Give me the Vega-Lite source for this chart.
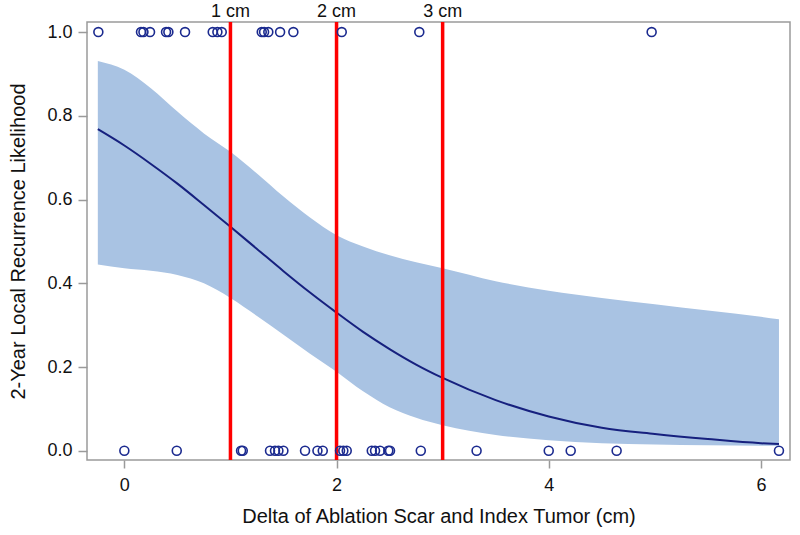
{
  "$schema": "https://vega.github.io/schema/vega-lite/v6.json",
  "width": 703,
  "height": 438,
  "autosize": "none",
  "padding": {"left": 87, "top": 22, "right": 10, "bottom": 75},
  "background": "white",
  "config": {
    "font": "Liberation Sans",
    "view": {"stroke": "#9a9a9a", "strokeWidth": 1.5},
    "axis": {
      "grid": false,
      "domain": false,
      "tickColor": "#9a9a9a",
      "tickSize": 9,
      "tickWidth": 1.5,
      "labelFont": "Liberation Sans",
      "labelFontSize": 18,
      "labelColor": "#111",
      "titleFont": "Liberation Sans",
      "titleFontSize": 20,
      "titleFontWeight": "normal",
      "titleColor": "#111"
    }
  },
  "datasets": {
    "curve": [
      {"x": -0.25, "fit": 0.768, "lo": 0.445, "hi": 0.931},
      {"x": 0.0, "fit": 0.729, "lo": 0.436, "hi": 0.910},
      {"x": 0.25, "fit": 0.685, "lo": 0.430, "hi": 0.866},
      {"x": 0.5, "fit": 0.638, "lo": 0.420, "hi": 0.810},
      {"x": 0.75, "fit": 0.587, "lo": 0.400, "hi": 0.758},
      {"x": 1.0, "fit": 0.535, "lo": 0.365, "hi": 0.714},
      {"x": 1.25, "fit": 0.482, "lo": 0.322, "hi": 0.662},
      {"x": 1.5, "fit": 0.429, "lo": 0.277, "hi": 0.607},
      {"x": 1.75, "fit": 0.378, "lo": 0.232, "hi": 0.557},
      {"x": 2.0, "fit": 0.330, "lo": 0.189, "hi": 0.515},
      {"x": 2.25, "fit": 0.284, "lo": 0.142, "hi": 0.488},
      {"x": 2.5, "fit": 0.243, "lo": 0.104, "hi": 0.467},
      {"x": 2.75, "fit": 0.206, "lo": 0.079, "hi": 0.450},
      {"x": 3.0, "fit": 0.174, "lo": 0.061, "hi": 0.436},
      {"x": 3.5, "fit": 0.121, "lo": 0.038, "hi": 0.405},
      {"x": 4.0, "fit": 0.082, "lo": 0.025, "hi": 0.382},
      {"x": 4.5, "fit": 0.055, "lo": 0.018, "hi": 0.365},
      {"x": 5.0, "fit": 0.040, "lo": 0.015, "hi": 0.350},
      {"x": 5.5, "fit": 0.028, "lo": 0.013, "hi": 0.335},
      {"x": 6.0, "fit": 0.018, "lo": 0.012, "hi": 0.320},
      {"x": 6.17, "fit": 0.016, "lo": 0.012, "hi": 0.314}
    ],
    "pts": [
      {"x": -0.245, "y": 1}, {"x": 0.157, "y": 1}, {"x": 0.18, "y": 1}, {"x": 0.242, "y": 1},
      {"x": 0.393, "y": 1}, {"x": 0.415, "y": 1}, {"x": 0.572, "y": 1}, {"x": 0.833, "y": 1},
      {"x": 0.877, "y": 1}, {"x": 0.918, "y": 1}, {"x": 1.295, "y": 1}, {"x": 1.317, "y": 1},
      {"x": 1.357, "y": 1}, {"x": 1.468, "y": 1}, {"x": 1.593, "y": 1}, {"x": 2.049, "y": 1},
      {"x": 2.78, "y": 1}, {"x": 4.97, "y": 1},
      {"x": 0.0, "y": 0}, {"x": 0.494, "y": 0}, {"x": 1.1, "y": 0}, {"x": 1.116, "y": 0},
      {"x": 1.373, "y": 0}, {"x": 1.42, "y": 0}, {"x": 1.452, "y": 0}, {"x": 1.499, "y": 0},
      {"x": 1.703, "y": 0}, {"x": 1.82, "y": 0}, {"x": 1.87, "y": 0}, {"x": 2.033, "y": 0},
      {"x": 2.064, "y": 0}, {"x": 2.096, "y": 0}, {"x": 2.332, "y": 0}, {"x": 2.363, "y": 0},
      {"x": 2.41, "y": 0}, {"x": 2.488, "y": 0}, {"x": 2.504, "y": 0}, {"x": 2.794, "y": 0},
      {"x": 3.32, "y": 0}, {"x": 4.0, "y": 0}, {"x": 4.207, "y": 0}, {"x": 4.64, "y": 0},
      {"x": 6.17, "y": 0}
    ],
    "cuts": [
      {"x": 1, "label": "1 cm"},
      {"x": 2, "label": "2 cm"},
      {"x": 3, "label": "3 cm"}
    ]
  },
  "layer": [
    {
      "data": {"name": "curve"},
      "mark": {"type": "area", "color": "#a9c3e3", "opacity": 1, "interpolate": "monotone"},
      "encoding": {
        "x": {
          "field": "x", "type": "quantitative",
          "scale": {"domain": [-0.352, 6.274], "nice": false, "zero": false},
          "axis": {"values": [0, 2, 4, 6], "format": "d", "title": "Delta of Ablation Scar and Index Tumor (cm)", "tickSize": 8, "labelPadding": 8, "titlePadding": 12}
        },
        "y": {
          "field": "lo", "type": "quantitative",
          "scale": {"domain": [-0.022, 1.024], "nice": false, "zero": false},
          "axis": {"values": [0, 0.2, 0.4, 0.6, 0.8, 1.0], "format": ".1f", "title": "2-Year Local Recurrence Likelihood", "labelPadding": 6, "titlePadding": 18}
        },
        "y2": {"field": "hi"}
      }
    },
    {
      "data": {"name": "curve"},
      "mark": {"type": "line", "color": "#16207e", "strokeWidth": 2, "interpolate": "monotone"},
      "encoding": {
        "x": {"field": "x", "type": "quantitative"},
        "y": {"field": "fit", "type": "quantitative"}
      }
    },
    {
      "data": {"name": "cuts"},
      "mark": {"type": "rule", "color": "#ff0000", "strokeWidth": 3.5},
      "encoding": {
        "x": {"field": "x", "type": "quantitative"}
      }
    },
    {
      "data": {"name": "pts"},
      "mark": {"type": "point", "shape": "circle", "filled": false, "stroke": "#1b2a8f", "strokeWidth": 1.6, "size": 80, "opacity": 1},
      "encoding": {
        "x": {"field": "x", "type": "quantitative"},
        "y": {"field": "y", "type": "quantitative"}
      }
    },
    {
      "data": {"name": "cuts"},
      "mark": {"type": "text", "font": "Liberation Sans", "fontSize": 18, "color": "#111", "baseline": "alphabetic", "align": "center", "dy": -5, "clip": false},
      "encoding": {
        "x": {"field": "x", "type": "quantitative"},
        "y": {"datum": 1.024, "type": "quantitative"},
        "text": {"field": "label"}
      }
    }
  ]
}
